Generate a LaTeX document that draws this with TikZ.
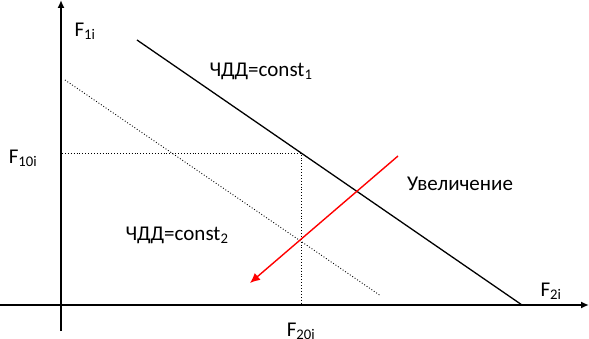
\documentclass[tikz,border=0pt]{standalone}
\usepackage{fontspec}
\setmainfont{Carlito}
\usetikzlibrary{arrows.meta}

\begin{document}
\begin{tikzpicture}[
    x=1pt, y=-1pt,
    axis/.style={-{Latex[length=8pt,width=7pt]}, line width=1.8pt},
    npv/.style={line width=1.3pt},
    aux/.style={dotted, line width=0.9pt},
    incr/.style={-{Latex[length=10pt,width=9pt]}, red, line width=1.4pt},
    lbl/.style={font=\fontsize{21}{24}\selectfont, inner sep=0pt},
    ]
  \useasboundingbox (0,0) rectangle (589,339);

  % axes
  \coordinate (ybot) at (61,331);
  \coordinate (ytop) at (61,0);
  \coordinate (xleft) at (0,305);
  \coordinate (xright) at (589,305);
  \draw[axis] (ybot) -- (ytop);
  \draw[axis] (xleft) -- (xright);

  % lines of equal NPV
  \coordinate (c1a) at (137,40);
  \coordinate (c1b) at (522,305);
  \coordinate (c2a) at (65,80);
  \coordinate (c2b) at (381,296);
  \draw[npv] (c1a) -- (c1b);
  \draw[aux] (c2a) -- (c2b);

  % chosen point
  \coordinate (p) at (301,153);
  \coordinate (py) at (62,153);
  \coordinate (px) at (301,305);
  \draw[aux] (py) -- (p) -- (px);

  % direction of increase
  \coordinate (ia) at (398,156);
  \coordinate (ib) at (250,283);
  \draw[incr] (ia) -- (ib);

  % labels
  \node[lbl] (f1) at (85,31) {F\textsubscript{1i}};
  \node[lbl] (f2) at (551,291) {F\textsubscript{2i}};
  \node[lbl] (f10) at (23,158) {F\textsubscript{10i}};
  \node[lbl] (f20) at (301,331) {F\textsubscript{20i}};
  \node[lbl] (const1) at (261,71) {ЧДД=const\textsubscript{1}};
  \node[lbl] (const2) at (177,235) {ЧДД=const\textsubscript{2}};
  \node[lbl] (up) at (460,184) {Увеличение};
\end{tikzpicture}
\end{document}
